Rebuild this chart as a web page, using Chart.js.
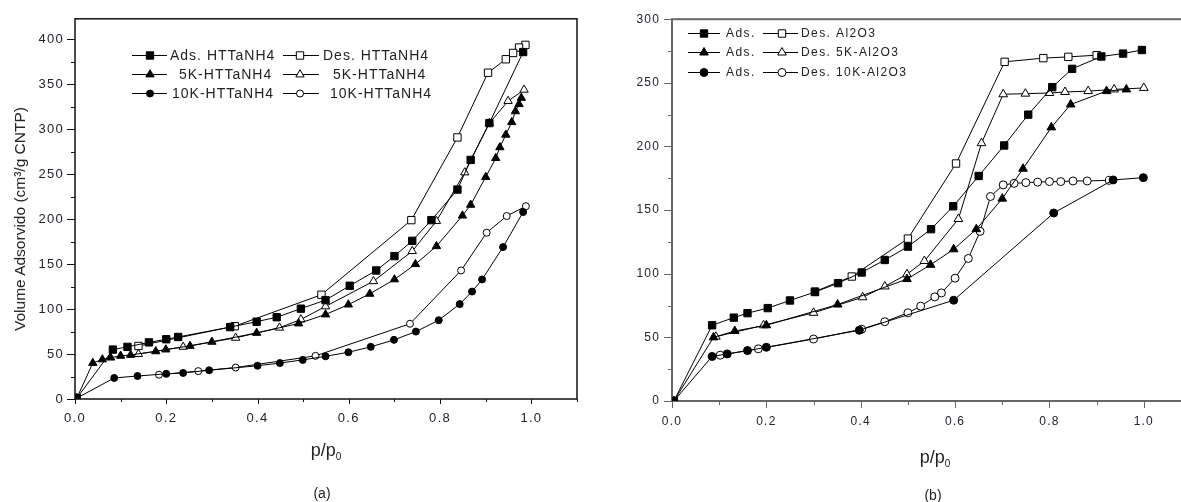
<!DOCTYPE html>
<html>
<head>
<meta charset="utf-8">
<script src="https://cdn.jsdelivr.net/npm/chart.js@4.4.1/dist/chart.umd.min.js"></script>
<style>
  html, body { margin: 0; padding: 0; background: #fff; overflow: hidden; }
  #wrap { position: relative; width: 1181px; height: 502px; overflow: hidden;
          font-family: "Liberation Sans", Arial, sans-serif; color: #222; }
  canvas { position: absolute; top: 0; }
  #chartA { left: 0; }
  #chartB { left: 600px; }
  .lbl { position: absolute; white-space: nowrap; transform: translate(-50%, -50%); }
  .lbl sub { font-size: 10px; vertical-align: -4px; }
</style>
</head>
<body>
<div id="wrap">
  <canvas id="chartA" width="600" height="470"></canvas>
  <canvas id="chartB" width="620" height="470"></canvas>
  <div class="lbl" style="left:20px; top:219px; font-size:15.5px; transform:translate(-50%,-50%) rotate(-90deg);">Volume Adsorvido (cm³/g CNTP)</div>
  <div class="lbl" style="left:326px; top:451px; font-size:18px;">p/p<sub>0</sub></div>
  <div class="lbl" style="left:322px; top:493px; font-size:14px;">(a)</div>
  <div class="lbl" style="left:935px; top:458px; font-size:18px;">p/p<sub>0</sub></div>
  <div class="lbl" style="left:933px; top:495px; font-size:14px;">(b)</div>
</div>
<script>
// (a) HTTaNH4 isotermas  [p/p0, volume]
const adsHTT = [[0.004,1],[0.083,55],[0.115,58],[0.162,63],[0.2,66.5],[0.226,69],[0.34,80],[0.398,86],[0.442,91],[0.495,100.5],[0.549,110],[0.602,126],[0.66,143],[0.70,159],[0.739,176],[0.781,199],[0.838,233],[0.867,266],[0.908,307],[0.982,386]];
const desHTT = [[0.987,394],[0.973,391],[0.96,385],[0.944,378],[0.905,363],[0.838,291],[0.737,199],[0.54,116],[0.35,81],[0.139,59]];
const ads5KHTT = [[0.004,1],[0.039,40],[0.06,44],[0.078,46],[0.1,48],[0.122,49],[0.177,53],[0.199,55],[0.252,59],[0.3,63.6],[0.398,73.5],[0.49,84],[0.549,94],[0.599,105],[0.646,117],[0.70,133],[0.746,150],[0.792,170],[0.849,204],[0.867,216],[0.90,247],[0.922,268],[0.931,280],[0.944,294],[0.957,308],[0.965,320],[0.973,328],[0.978,335]];
const des5KHTT = [[0.984,344],[0.949,331.5],[0.908,307],[0.854,252],[0.792,198],[0.739,164.5],[0.654,131],[0.549,103],[0.495,88.5],[0.448,79.3],[0.352,68],[0.237,58],[0.139,50]];
const ads10KHTT = [[0.004,1],[0.086,23.4],[0.137,25.6],[0.2,28],[0.237,29],[0.294,32],[0.4,37],[0.449,40],[0.499,43.5],[0.549,47.5],[0.599,52],[0.648,58],[0.699,65.8],[0.747,75],[0.797,87.7],[0.843,105.6],[0.87,119.5],[0.892,133],[0.938,169],[0.982,208]];
const des10KHTT = [[0.988,214.5],[0.946,203.6],[0.902,185],[0.846,143],[0.734,83.7],[0.527,48],[0.352,35],[0.27,31],[0.184,27]];

// (b) Al2O3 isotermas
const adsAl = [[0.004,0],[0.085,59.5],[0.131,65.5],[0.16,69],[0.203,73],[0.25,79],[0.303,85.6],[0.352,92.6],[0.402,101],[0.451,110.8],[0.5,121.3],[0.549,135],[0.596,153],[0.65,176.8],[0.704,200.8],[0.755,225],[0.806,246.6],[0.848,261],[0.91,270.7],[0.956,273],[0.996,275.8]];
const desAl = [[0.9,271.7],[0.84,270.4],[0.787,269.4],[0.705,266.5],[0.602,186.6],[0.5,127.6],[0.381,97.8],[0.303,86]];
const ads5KAl = [[0.004,0],[0.088,50],[0.133,55],[0.2,59.5],[0.351,75.8],[0.498,95.8],[0.548,107],[0.597,119.2],[0.645,135],[0.70,159],[0.744,182.5],[0.804,215],[0.845,233],[0.921,243.5],[0.963,244.8]];
const des5KAl = [[1.0,246],[0.937,244.8],[0.882,243.5],[0.833,242.8],[0.80,242],[0.749,241.5],[0.702,241],[0.656,202.6],[0.607,143],[0.535,110],[0.498,99.6],[0.451,90],[0.404,81.5],[0.30,69.3],[0.194,59.5],[0.093,50.5]];
const ads10KAl = [[0.004,0],[0.085,35],[0.117,37],[0.16,39.6],[0.2,42.2],[0.397,55.6],[0.597,79.2],[0.809,147.7],[0.935,173.7],[0.999,175.5]];
const des10KAl = [[0.927,173.4],[0.88,172.9],[0.85,172.9],[0.824,172.4],[0.80,172.4],[0.775,172],[0.75,171.6],[0.725,171],[0.702,169.8],[0.675,160.7],[0.653,133.3],[0.628,112],[0.6,96.5],[0.571,84.9],[0.557,81.8],[0.527,74.5],[0.5,69.3],[0.451,62.3],[0.402,56.4],[0.30,48.7],[0.183,41],[0.102,36]];

const labelsA = ['Ads. HTTaNH4', 'Des. HTTaNH4', '5K-HTTaNH4', '5K-HTTaNH4', '10K-HTTaNH4', '10K-HTTaNH4'];
const labelsB = ['Ads.', 'Des. Al2O3', 'Ads.', 'Des. 5K-Al2O3', 'Ads.', 'Des. 10K-Al2O3'];

function isMajor(v, step) {
  const q = v / step;
  return Math.abs(q - Math.round(q)) < 1e-6;
}

function serie(label, arr, style, filled, r) {
  return {
    label: label,
    data: arr.map(p => ({ x: p[0], y: p[1] })),
    showLine: true,
    tension: 0,
    fill: false,
    borderColor: '#000',
    borderWidth: 1,
    pointStyle: style,
    pointRadius: r,
    pointHoverRadius: r,
    pointBorderColor: '#000',
    pointBorderWidth: 1,
    pointBackgroundColor: filled ? '#000' : '#fff'
  };
}

// moldura + marcas de escala (maiores e menores)
const framePlugin = {
  id: 'frame',
  beforeDraw(chart, args, o) {
    chart.ctx.letterSpacing = o.spacing;
  },
  beforeDatasetsDraw(chart, args, o) {
    const { ctx, chartArea: a, scales: { x, y } } = chart;
    ctx.save();
    ctx.strokeStyle = o.color;
    ctx.lineWidth = o.width;
    ctx.strokeRect(a.left, a.top, a.right - a.left, a.bottom - a.top);
    ctx.lineWidth = 1;
    ctx.beginPath();
    x.ticks.forEach(t => {
      const px = Math.round(x.getPixelForValue(t.value)) + 0.5;
      const len = isMajor(t.value, o.xStep) ? o.xMajor : o.xMinor;
      ctx.moveTo(px, a.bottom);
      ctx.lineTo(px, a.bottom + len);
    });
    y.ticks.forEach(t => {
      const py = Math.round(y.getPixelForValue(t.value)) + 0.5;
      const len = isMajor(t.value, o.yStep) ? o.yMajor : o.yMinor;
      ctx.moveTo(a.left, py);
      ctx.lineTo(a.left - len, py);
    });
    ctx.stroke();
    ctx.restore();
  }
};

// legenda em duas colunas dentro do gráfico
const legendPlugin = {
  id: 'isoLegend',
  afterDraw(chart, args, o) {
    const ctx = chart.ctx;
    ctx.save();
    ctx.font = o.font;
    ctx.letterSpacing = o.spacing;
    ctx.textBaseline = 'middle';
    o.items.forEach(it => {
      const ds = chart.data.datasets[it.ds];
      ctx.strokeStyle = '#000';
      ctx.lineWidth = 1;
      ctx.beginPath();
      ctx.moveTo(it.x1, it.y + 0.5);
      ctx.lineTo(it.x2, it.y + 0.5);
      ctx.stroke();
      ctx.fillStyle = ds.pointBackgroundColor;
      Chart.helpers.drawPoint(ctx, { pointStyle: ds.pointStyle, radius: ds.pointRadius, borderWidth: 1, rotation: 0 }, it.mx, it.y + 0.5);
      ctx.fillStyle = o.color;
      ctx.fillText(ds.label, it.tx, it.y + 1);
    });
    ctx.restore();
  }
};

function makeOptions(cfg) {
  return {
    responsive: false,
    animation: false,
    events: [],
    layout: { padding: { top: cfg.top, right: cfg.right, left: 0, bottom: 0 } },
    plugins: {
      legend: { display: false },
      tooltip: { enabled: false },
      frame: cfg.frame,
      isoLegend: cfg.legend
    },
    scales: {
      x: {
        type: 'linear', min: 0, max: 1.1,
        grid: { display: false, drawTicks: false },
        border: { display: false },
        afterFit: s => { s.height = cfg.xHeight; },
        ticks: {
          stepSize: 0.1, autoSkip: false, maxRotation: 0, includeBounds: false,
          padding: cfg.xPad, color: '#23232f',
          font: { family: '"Liberation Sans", Arial, sans-serif', size: cfg.tickSize },
          callback: v => isMajor(v, 0.2) ? v.toFixed(1) : ''
        }
      },
      y: {
        type: 'linear', min: 0, max: cfg.yMax,
        grid: { display: false, drawTicks: false },
        border: { display: false },
        afterFit: s => { s.width = cfg.yWidth; },
        ticks: {
          stepSize: 25, autoSkip: false, includeBounds: false,
          padding: cfg.yPad, color: '#23232f',
          font: { family: '"Liberation Sans", Arial, sans-serif', size: cfg.tickSize },
          callback: v => isMajor(v, 50) ? String(v) : ''
        }
      }
    }
  };
}

new Chart(document.getElementById('chartA'), {
  type: 'line',
  data: {
    datasets: [
      serie(labelsA[0], adsHTT, 'rect', true, 5.2),
      serie(labelsA[1], desHTT, 'rect', false, 5.2),
      serie(labelsA[2], ads5KHTT, 'triangle', true, 4.8),
      serie(labelsA[3], des5KHTT, 'triangle', false, 4.8),
      serie(labelsA[4], ads10KHTT, 'circle', true, 3.5),
      serie(labelsA[5], des10KHTT, 'circle', false, 3.5)
    ]
  },
  options: makeOptions({
    top: 13, right: 23, xHeight: 71, yWidth: 75, yMax: 423,
    xPad: 12, yPad: 11, tickSize: 13,
    frame: { color: '#111', width: 1.5, xStep: 0.2, yStep: 50, xMajor: 5, xMinor: 3, yMajor: 8, yMinor: 4, spacing: '1.3px' },
    legend: {
      font: '14px "Liberation Sans", Arial, sans-serif', spacing: '1px', color: '#222',
      items: [
        { ds: 0, x1: 132, x2: 167, mx: 150, tx: 170, y: 55 },
        { ds: 1, x1: 283, x2: 319, mx: 300, tx: 323, y: 55 },
        { ds: 2, x1: 132, x2: 167, mx: 150, tx: 179, y: 74 },
        { ds: 3, x1: 283, x2: 319, mx: 300, tx: 333, y: 74 },
        { ds: 4, x1: 132, x2: 167, mx: 150, tx: 172, y: 93 },
        { ds: 5, x1: 283, x2: 319, mx: 300, tx: 330, y: 93 }
      ]
    }
  }),
  plugins: [framePlugin, legendPlugin]
});

new Chart(document.getElementById('chartB'), {
  type: 'line',
  data: {
    datasets: [
      serie(labelsB[0], adsAl, 'rect', true, 5.2),
      serie(labelsB[1], desAl, 'rect', false, 5.2),
      serie(labelsB[2], ads5KAl, 'triangle', true, 5),
      serie(labelsB[3], des5KAl, 'triangle', false, 5),
      serie(labelsB[4], ads10KAl, 'circle', true, 4),
      serie(labelsB[5], des10KAl, 'circle', false, 4)
    ]
  },
  options: makeOptions({
    top: 15, right: 29, xHeight: 69, yWidth: 72, yMax: 300,
    xPad: 13, yPad: 12, tickSize: 12,
    frame: { color: '#666', width: 2, xStep: 0.2, yStep: 50, xMajor: 7, xMinor: 4, yMajor: 8, yMinor: 4, spacing: '1.2px' },
    legend: {
      font: '12px "Liberation Sans", Arial, sans-serif', spacing: '1.4px', color: '#222',
      items: [
        { ds: 0, x1: 88, x2: 120, mx: 104, tx: 126, y: 33 },
        { ds: 1, x1: 163, x2: 198, mx: 182, tx: 201, y: 33 },
        { ds: 2, x1: 88, x2: 120, mx: 104, tx: 126, y: 52 },
        { ds: 3, x1: 163, x2: 198, mx: 182, tx: 201, y: 52 },
        { ds: 4, x1: 88, x2: 120, mx: 104, tx: 126, y: 72 },
        { ds: 5, x1: 163, x2: 198, mx: 182, tx: 201, y: 72 }
      ]
    }
  }),
  plugins: [framePlugin, legendPlugin]
});
</script>
</body>
</html>
